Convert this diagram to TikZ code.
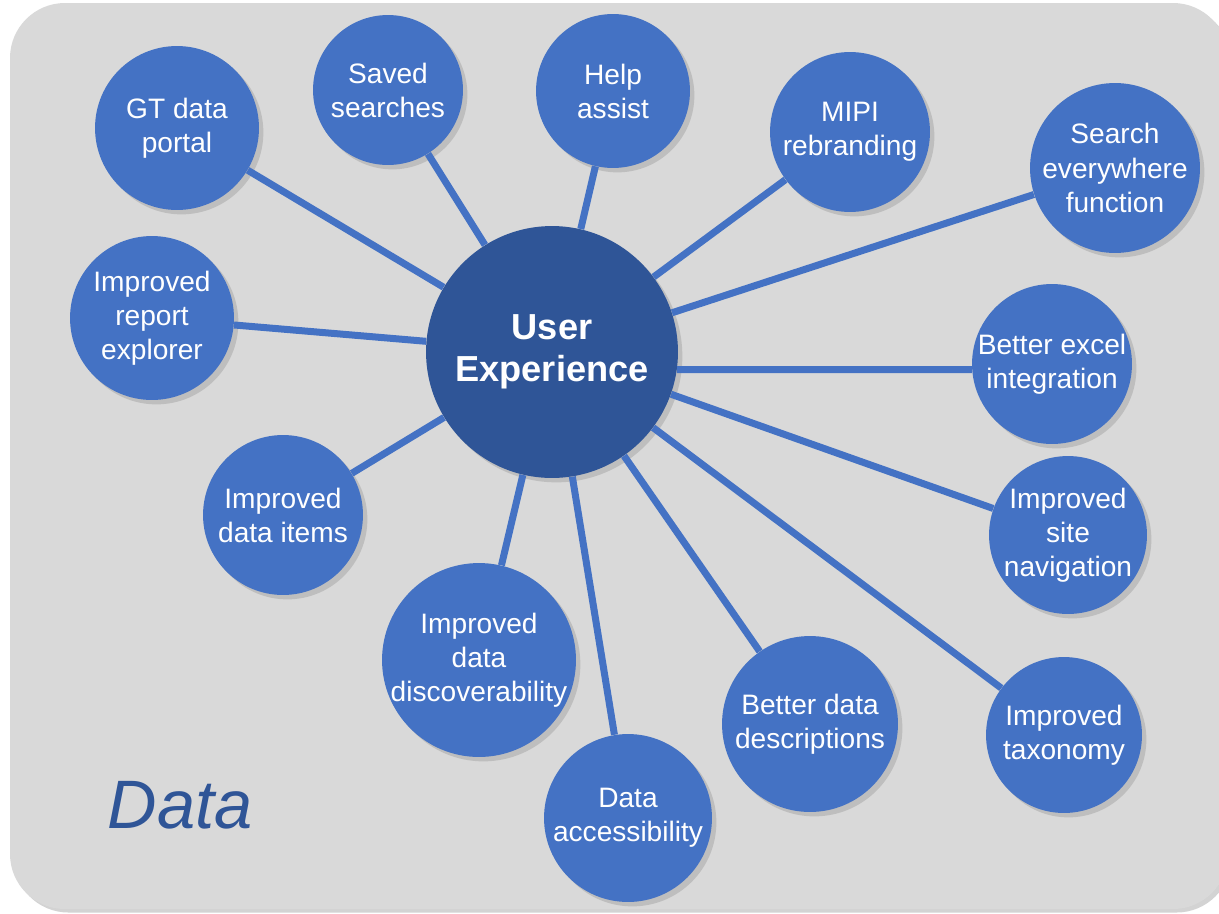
\documentclass[tikz,border=0pt]{standalone}
\usepackage{fontspec}
\setmainfont{Liberation Sans}
\usetikzlibrary{shadows}
\definecolor{bubblue}{HTML}{4472C4}
\definecolor{hubblue}{HTML}{2F5597}
\definecolor{panelgray}{HTML}{D9D9D9}
\tikzset{
	bubble/.style={circle, fill=bubblue, inner sep=0pt, minimum size=#1*0.04cm,
		drop shadow={shadow xshift=2.5pt, shadow yshift=-2.5pt, opacity=0.3}},
	bubtext/.style={text=white, align=center, inner sep=0pt, font=\fontsize{16}{19.4}\selectfont},
	spoke/.style={draw=bubblue, line width=0.14cm},
}

\begin{document}
\begin{tikzpicture}[x=0.02cm, y=-0.02cm]
			%%%%% START %%%%%
			
			\useasboundingbox (0, 0) rectangle (1219, 913);
			\fill[panelgray, rounded corners=1.1cm, drop shadow={shadow xshift=2pt, shadow yshift=-2pt, opacity=0.35}] (10, 3) rectangle (1228, 909);
			
			\node[text=hubblue, font=\itshape\fontsize{39}{47}\selectfont] (datatitle) at (180, 805) {Data};
			
			\node[bubble=126, fill=hubblue, label={[bubtext, font=\bfseries\fontsize{20.6}{23.9}\selectfont]center:User\\Experience}] (hub) at (552, 352) {};
			
			\node[bubble=82, label={[bubtext]center:GT data\\portal}] (gtportal) at (177, 128) {};
			\node[bubble=75, label={[bubtext]center:Saved\\searches}] (saved) at (388, 90) {};
			\node[bubble=77, label={[bubtext]center:Help\\assist}] (help) at (613, 91) {};
			\node[bubble=80, label={[bubtext]center:MIPI\\rebranding}] (mipi) at (850, 132) {};
			\node[bubble=85, label={[bubtext]center:Search\\everywhere\\function}] (search) at (1115, 168) {};
			\node[bubble=82, label={[bubtext]center:Improved\\report\\explorer}] (report) at (152, 318) {};
			\node[bubble=80, label={[bubtext]center:Better excel\\integration}] (excel) at (1052, 364) {};
			\node[bubble=80, label={[bubtext]center:Improved\\data items}] (items) at (283, 515) {};
			\node[bubble=79, label={[bubtext]center:Improved\\site\\navigation}] (nav) at (1068, 535) {};
			\node[bubble=97, label={[bubtext]center:Improved\\data\\discoverability}] (disc) at (479, 660) {};
			\node[bubble=88, label={[bubtext]center:Better data\\descriptions}] (descr) at (810, 724) {};
			\node[bubble=78, label={[bubtext]center:Improved\\taxonomy}] (taxon) at (1064, 735) {};
			\node[bubble=84, label={[bubtext]center:Data\\accessibility}] (access) at (628, 818) {};
			
			\draw[spoke] (hub) -- (gtportal);
			\draw[spoke] (hub) -- (saved);
			\draw[spoke] (hub) -- (help);
			\draw[spoke] (hub) -- (mipi);
			\draw[spoke] (hub) -- (search);
			\draw[spoke] (hub) -- (report);
			\draw[spoke] (hub.-8) -- (excel.184);
			\draw[spoke] (hub) -- (items);
			\draw[spoke] (hub) -- (nav);
			\draw[spoke] (hub) -- (disc);
			\draw[spoke] (hub) -- (descr);
			\draw[spoke] (hub) -- (taxon);
			\draw[spoke] (hub) -- (access);
			
			%%%%% END %%%%%
\end{tikzpicture}
\end{document}
